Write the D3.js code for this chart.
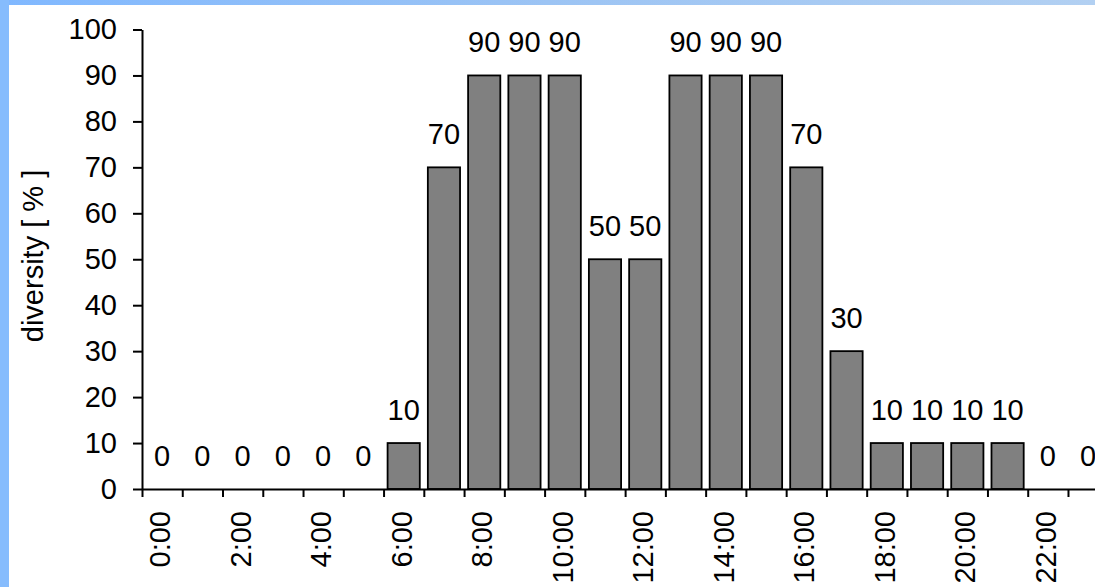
<!DOCTYPE html>
<html>
<head>
<meta charset="utf-8">
<script src="https://cdn.jsdelivr.net/npm/d3@7"></script>
<style>
  html, body { margin: 0; padding: 0; background: #ffffff; }
  svg { display: block; }
  text { font-family: "Liberation Sans", Arial, sans-serif; fill: #000; }
</style>
</head>
<body>
<svg id="chart" width="1095" height="587"></svg>
<script>
const hours = ["0:00","1:00","2:00","3:00","4:00","5:00","6:00","7:00","8:00","9:00","10:00","11:00",
               "12:00","13:00","14:00","15:00","16:00","17:00","18:00","19:00","20:00","21:00","22:00","23:00"];
const diversity = [0,0,0,0,0,0,10,70,90,90,90,50,50,90,90,90,70,30,10,10,10,10,0,0];
const yTicks = [0,10,20,30,40,50,60,70,80,90,100];
const xLabelHours = ["0:00","2:00","4:00","6:00","8:00","10:00","12:00","14:00","16:00","18:00","20:00","22:00"];
const yTitle = "diversity [ % ]";

const svg = d3.select("#chart");
const W = 1095, H = 587;

// background decoration
const defs = svg.append("defs");
const grad = defs.append("linearGradient").attr("id", "topband").attr("x1", "0").attr("x2", "1").attr("y1", "0").attr("y2", "0");
grad.append("stop").attr("offset", "0").attr("stop-color", "#80b8ff");
grad.append("stop").attr("offset", "0.5").attr("stop-color", "#9cc4f4");
grad.append("stop").attr("offset", "1").attr("stop-color", "#b2d0f2");
svg.append("rect").attr("x", 0).attr("y", 0).attr("width", W).attr("height", H).attr("fill", "#ffffff");
svg.append("rect").attr("x", 0).attr("y", 0).attr("width", W).attr("height", 5).attr("fill", "url(#topband)");
svg.append("rect").attr("x", 0).attr("y", 0).attr("width", 9).attr("height", H).attr("fill", "#86bcfd");

const x0 = 142, step = 40.26;
const x = d3.scaleBand().domain(hours).range([x0, x0 + step * hours.length]).paddingInner(0.2).paddingOuter(0.1);
const xb = d3.scaleLinear().domain([0, hours.length]).range([x0, x0 + step * hours.length]);
const y = d3.scaleLinear().domain([0, 100]).range([489, 29.5]);

const FS = 29;

// bars
svg.append("g").selectAll("rect").data(hours).join("rect")
  .attr("x", d => x(d))
  .attr("width", x.bandwidth())
  .attr("y", (d, i) => y(diversity[i]))
  .attr("height", (d, i) => y(0) - y(diversity[i]))
  .attr("fill", "#808080")
  .attr("stroke", "#000")
  .attr("stroke-width", 1.8);

// value labels
svg.append("g").selectAll("text").data(hours).join("text")
  .attr("x", d => x(d) + x.bandwidth() / 2)
  .attr("y", (d, i) => y(diversity[i]) - 23)
  .attr("text-anchor", "middle")
  .style("font-size", FS + "px")
  .text((d, i) => diversity[i]);

// y axis
const yAxis = svg.append("g").attr("transform", `translate(${x0},0)`)
  .call(d3.axisLeft(y).tickValues(yTicks).tickSize(9).tickPadding(16).tickSizeOuter(0));
yAxis.select(".domain").attr("stroke", "#000").attr("stroke-width", 2);
yAxis.selectAll(".tick line").attr("stroke", "#000").attr("stroke-width", 2);
yAxis.selectAll(".tick text").style("font-size", FS + "px").style("font-family", "'Liberation Sans', Arial, sans-serif").attr("fill", "#000");

// x axis boundary ticks
const xAxis = svg.append("g").attr("transform", `translate(0,${y(0)})`)
  .call(d3.axisBottom(xb).tickValues(d3.range(0, hours.length + 1)).tickSize(8).tickFormat("").tickSizeOuter(0));
xAxis.select(".domain").attr("stroke", "#000").attr("stroke-width", 2);
xAxis.selectAll(".tick line").attr("stroke", "#000").attr("stroke-width", 2);

// x labels, rotated
svg.append("g").selectAll("text").data(xLabelHours).join("text")
  .attr("transform", d => `translate(${x(d) + x.bandwidth() / 2 - 2},511) rotate(-90)`)
  .attr("text-anchor", "end")
  .attr("dy", "0.35em")
  .style("font-size", FS + "px")
  .text(d => d);

// y title
svg.append("text")
  .attr("transform", `translate(43,256) rotate(-90)`)
  .attr("text-anchor", "middle")
  .style("font-size", FS + "px")
  .text(yTitle);
</script>
</body>
</html>
